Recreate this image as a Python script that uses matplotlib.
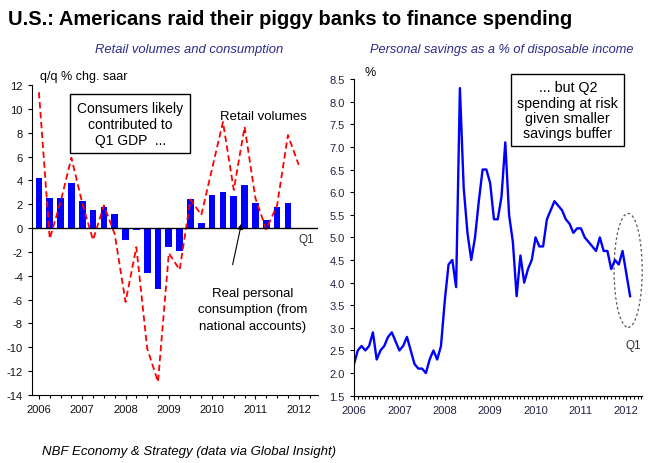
import matplotlib
matplotlib.use("Agg")
import matplotlib.pyplot as plt
import matplotlib.font_manager as fm
from matplotlib.patches import Ellipse
from matplotlib.ticker import MultipleLocator
import numpy as np
import pandas as pd

# fonts: Arial-like, with a narrow face for ticks/subtitles when available
installed = {f.name for f in fm.fontManager.ttflist}
NARROW = "Liberation Sans Narrow" if "Liberation Sans Narrow" in installed else "Liberation Sans"
plt.rcParams["font.family"] = ["Liberation Sans", "DejaVu Sans"]
plt.rcParams["axes.unicode_minus"] = False

# ---- data: left panel (quarterly, q/q % chg. saar) ----
quarters = pd.period_range("2006Q1", "2012Q1", freq="Q")
retail_volumes = [11.4, -0.9, 2.2, 5.9, 2.1, -1.0, 1.9, -0.5,
                  -6.2, -1.6, -10.1, -12.9, -2.1, -3.5, 2.4, 1.1,
                  5.0, 8.9, 3.2, 8.5, 2.5, -0.1, 1.9, 7.8, 5.3]
real_consumption = [4.2, 2.5, 2.5, 3.8, 2.3, 1.5, 1.8, 1.2,
                    -1.0, -0.2, -3.8, -5.1, -1.6, -1.9, 2.4, 0.45,
                    2.8, 3.0, 2.7, 3.6, 2.1, 0.7, 1.8, 2.1]

# ---- data: right panel (monthly personal savings rate, %) ----
months = pd.period_range("2006-01", "2012-02", freq="M")
savings_rate = [2.2, 2.5, 2.6, 2.5, 2.6, 2.9, 2.3, 2.5, 2.6, 2.8, 2.9, 2.7,
                2.5, 2.6, 2.8, 2.5, 2.2, 2.1, 2.1, 2.0, 2.3, 2.5, 2.3, 2.6,
                3.6, 4.4, 4.5, 3.9, 8.3, 6.1, 5.1, 4.5, 5.0, 5.8, 6.5, 6.5,
                6.2, 5.4, 5.4, 5.9, 7.1, 5.5, 4.9, 3.7, 4.6, 4.0, 4.3, 4.5,
                5.0, 4.8, 4.8, 5.4, 5.6, 5.8, 5.7, 5.6, 5.4, 5.3, 5.1, 5.2,
                5.2, 5.0, 4.9, 4.8, 4.7, 5.0, 4.7, 4.7, 4.3, 4.5, 4.4, 4.7,
                4.2, 3.7]

years = list(range(2006, 2013))

q_x = np.array([p.year + (p.quarter - 1) / 4 for p in quarters])
m_x = np.array([p.year + (p.month - 1) / 12 for p in months])

RED = "#ff0000"
BLUE = "#0000ff"
NAVY = "#2b2b8c"

fig = plt.figure(figsize=(6.57, 4.64), dpi=100)

fig.text(0.012, 0.958, "U.S.: Americans raid their piggy banks to finance spending",
         fontsize=14.5, fontweight="bold", va="center", ha="left")
fig.text(0.288, 0.892, "Retail volumes and consumption", family=NARROW,
         fontsize=9.4, style="italic", color=NAVY, ha="center", va="center")
fig.text(0.763, 0.892, "Personal savings as a % of disposable income", family=NARROW,
         fontsize=9.2, style="italic", color=NAVY, ha="center", va="center")
fig.text(0.064, 0.026, "NBF Economy & Strategy (data via Global Insight)",
         fontsize=9.5, style="italic", ha="left", va="center")


def style_axis(ax, label_color):
    for side in ("top", "right"):
        ax.spines[side].set_visible(False)
    ax.tick_params(axis="both", which="both", direction="out", labelsize=8,
                   labelcolor=label_color, length=3, width=0.8)
    ax.tick_params(axis="x", which="minor", length=2)
    for lab in ax.get_xticklabels() + ax.get_yticklabels():
        lab.set_family(NARROW)


# ---------------- left panel ----------------
ax1 = fig.add_axes([0.0487, 0.1466, 0.435, 0.668])
ax1.bar(q_x[:len(real_consumption)], real_consumption, width=0.155,
        color=BLUE, zorder=2)
ax1.plot(q_x, retail_volumes, color=RED, lw=1.3, ls=(0, (3.5, 2)), zorder=3)
ax1.axhline(0, color="black", lw=1, zorder=4)
ax1.set_xlim(2005.84, 2012.44)
ax1.set_ylim(-14, 12)
ax1.set_yticks(range(-14, 13, 2))
ax1.set_xticks(years)
ax1.xaxis.set_minor_locator(MultipleLocator(0.25))
style_axis(ax1, "#111111")

fig.text(0.061, 0.834, "q/q % chg. saar", family=NARROW, fontsize=9,
         ha="left", va="center")
ax1.text(2008.11, 8.74, "Consumers likely\ncontributed to\nQ1 GDP  ...",
         ha="center", va="center", fontsize=10, linespacing=1.15,
         bbox=dict(boxstyle="square,pad=0.5", fc="white", ec="black", lw=1),
         zorder=5)
ax1.text(2011.19, 9.39, "Retail volumes", family=NARROW, fontsize=9.5,
         ha="center", va="center")
ax1.text(2012.17, -0.92, "Q1", fontsize=8.5, ha="center", va="center",
         color="#333333")
ax1.annotate("", xy=(2010.69, 0.6), xytext=(2010.46, -3.3),
             arrowprops=dict(arrowstyle="-|>", color="black", lw=0.8,
                             mutation_scale=8), zorder=5)
ax1.text(2010.94, -6.8, "Real personal\nconsumption (from\nnational accounts)",
         family=NARROW, fontsize=9.5, ha="center", va="center", linespacing=1.5)

# ---------------- right panel ----------------
ax2 = fig.add_axes([0.5388, 0.145, 0.438, 0.6825])
ax2.plot(m_x, savings_rate, color=BLUE, lw=1.7, zorder=2)
ax2.set_xlim(2006.0, 2012.34)
ax2.set_ylim(1.5, 8.5)
ax2.set_yticks(np.arange(1.5, 8.51, 0.5))
ax2.set_yticklabels([f"{v:.1f}" for v in np.arange(1.5, 8.51, 0.5)])
ax2.set_xticks(years)
ax2.xaxis.set_minor_locator(MultipleLocator(1 / 12))
style_axis(ax2, "#222244")

fig.text(0.563, 0.843, "%", fontsize=9, ha="center", va="center")
ax2.text(2010.71, 7.81, "... but Q2\nspending at risk\ngiven smaller\nsavings buffer",
         ha="center", va="center", fontsize=10.3, linespacing=1.12,
         bbox=dict(boxstyle="square,pad=0.42", fc="white", ec="black", lw=1),
         zorder=5)
ax2.add_patch(Ellipse((2012.04, 4.27), 0.62, 2.52, fill=False,
                      ec="#555555", lw=0.9, ls=(0, (2, 2)), clip_on=False))
ax2.text(2012.15, 2.62, "Q1", fontsize=8.5, ha="center", va="center",
         color="#333333")

fig.savefig("out.png", dpi=100)
